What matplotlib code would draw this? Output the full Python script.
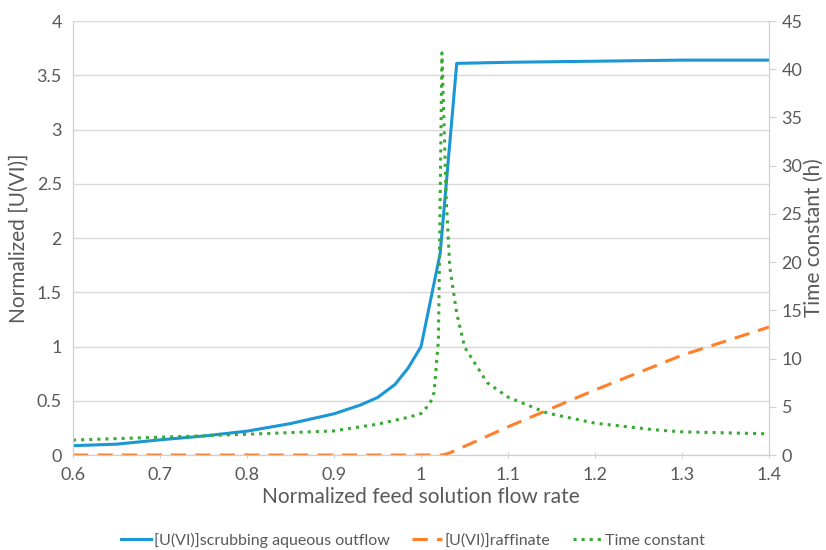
import matplotlib.pyplot as plt

# Datos
x_azul = [0.6, 0.65, 0.7, 0.75, 0.8, 0.85, 0.9, 0.93, 0.95, 0.97, 0.985, 1.0, 1.022, 1.041, 1.1, 1.2, 1.3, 1.4]
y_azul = [0.086, 0.10, 0.14, 0.175, 0.22, 0.29, 0.38, 0.46, 0.53, 0.65, 0.80, 1.0, 1.86, 3.61, 3.62, 3.63, 3.64, 3.64]

x_naranja = [0.6, 0.8, 1.0, 1.025, 1.033, 1.05, 1.1, 1.15, 1.2, 1.25, 1.3, 1.35, 1.4]
y_naranja = [0.0, 0.0, 0.0, 0.0, 0.02, 0.08, 0.26, 0.43, 0.60, 0.76, 0.92, 1.05, 1.18]

x_verde = [0.6, 0.7, 0.8, 0.9, 0.95, 0.985, 1.0, 1.01, 1.015, 1.02, 1.024, 1.029, 1.033, 1.041, 1.05, 1.076, 1.1, 1.145, 1.2, 1.27, 1.3, 1.4]
y_verde = [1.55, 1.85, 2.15, 2.5, 3.2, 3.9, 4.3, 5.3, 6.5, 12.0, 41.7, 26.4, 19.5, 14.7, 11.2, 7.5, 6.0, 4.35, 3.3, 2.6, 2.4, 2.2]

plt.rcParams['font.family'] = ['Lato', 'DejaVu Sans']
gris = '#595959'

fig = plt.figure(figsize=(8.26, 5.5), dpi=100)
ax = fig.add_axes([0.0884, 0.1727, 0.8427, 0.789])
ax2 = ax.twinx()

l1, = ax.plot(x_azul, y_azul, '-', color='#1b96d6', linewidth=2.2, label='[U(VI)]scrubbing aqueous outflow')
l2, = ax.plot(x_naranja, y_naranja, '--', color='#ff7f2a', linewidth=2.2, dashes=(5, 3), label='[U(VI)]raffinate')
l3, = ax2.plot(x_verde, y_verde, ':', color='#3aaa35', linewidth=2.2, label='Time constant')

ax.set_xlim(0.6, 1.4)
ax.set_ylim(0, 4)
ax2.set_ylim(0, 45)
ax.set_xticks([0.6, 0.7, 0.8, 0.9, 1.0, 1.1, 1.2, 1.3, 1.4])
ax.set_xticklabels(['0.6', '0.7', '0.8', '0.9', '1', '1.1', '1.2', '1.3', '1.4'])
ax.set_yticks([0, 0.5, 1, 1.5, 2, 2.5, 3, 3.5, 4])
ax.set_yticklabels(['0', '0.5', '1', '1.5', '2', '2.5', '3', '3.5', '4'])
ax2.set_yticks(range(0, 46, 5))

ax.grid(True, axis='y', color='#d9d9d9', linewidth=1)
ax.set_axisbelow(True)

for a in (ax, ax2):
    a.spines['top'].set_visible(False)
    for s in ['left', 'right', 'bottom']:
        a.spines[s].set_color('#d0d0d0')
    a.tick_params(colors=gris, labelsize=13)
ax.tick_params(axis='y', length=0, pad=8)
ax2.tick_params(axis='y', length=5, direction='out', color='#d0d0d0', pad=4)
ax.tick_params(axis='x', length=5, direction='inout', color='#d0d0d0', pad=6)

ax.set_xlabel('Normalized feed solution flow rate', fontsize=15, color=gris, labelpad=3)
ax.set_ylabel('Normalized [U(VI)]', fontsize=15, color=gris, labelpad=6)
ax2.set_ylabel('Time constant (h)', fontsize=15, color=gris, labelpad=1)

fig.legend(handles=[l1, l2, l3], loc='center', bbox_to_anchor=(0.5, 0.018), ncol=3,
           frameon=False, fontsize=11.5, labelcolor=gris, handlelength=1.9, columnspacing=1.4,
           handletextpad=0.15, borderpad=0)

fig.savefig('out.png', dpi=100)
